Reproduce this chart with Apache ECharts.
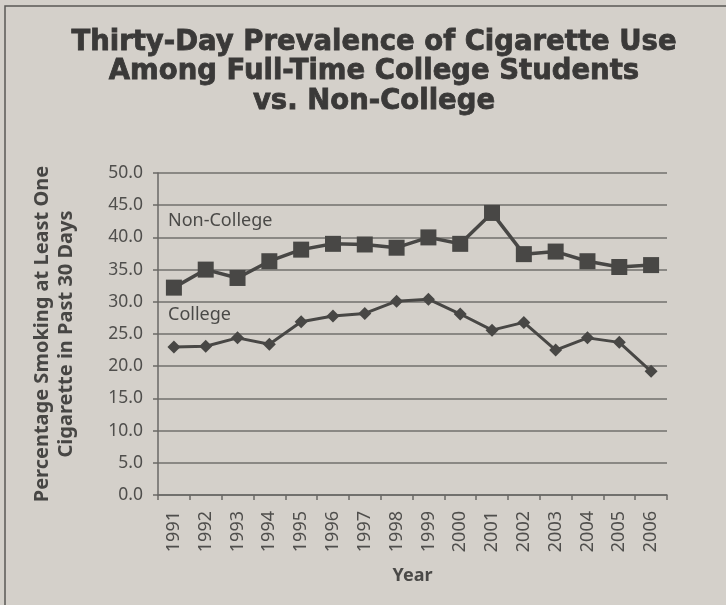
<!DOCTYPE html>
<html>
<head>
<meta charset="utf-8">
<script src="https://cdn.jsdelivr.net/npm/echarts@6/dist/echarts.min.js"></script>
<style>
html,body{margin:0;padding:0;background:#d4d0ca;}
#c{width:726px;height:605px;}
</style>
</head>
<body>
<div id="c"></div>
<script>
const years = ['1991','1992','1993','1994','1995','1996','1997','1998','1999','2000','2001','2002','2003','2004','2005','2006'];
const nonCollege = [32.2, 35.0, 33.7, 36.3, 38.1, 39.0, 38.9, 38.4, 40.0, 39.0, 43.8, 37.4, 37.8, 36.3, 35.4, 35.7];
const college = [23.0, 23.1, 24.4, 23.4, 26.9, 27.8, 28.2, 30.1, 30.4, 28.1, 25.6, 26.8, 22.5, 24.4, 23.7, 19.2];
const yTicks = { min: 0, max: 50, interval: 5 };
const titleText = 'Thirty-Day Prevalence of Cigarette Use\nAmong Full-Time College Students\nvs. Non-College';
const yName = 'Percentage Smoking at Least One\nCigarette in Past 30 Days';
const xName = 'Year';

const chart = echarts.init(document.getElementById('c'), null, {renderer:'canvas'});
const ink = '#484745';
const option = {
  backgroundColor: '#d4d0ca',
  animation: false,
  title: {
    text: titleText,
    left: 369, top: 23, textAlign: 'center',
    textStyle: { fontFamily: 'DejaVu Sans', fontWeight: 'bold', fontSize: 27.5, lineHeight: 29.5, color: '#3a3938',
                 textBorderColor: '#3a3938', textBorderWidth: 0.8 }
  },
  grid: { left: 158, right: 59, top: 173, bottom: 110, containLabel: false },
  xAxis: {
    type: 'category', data: years, boundaryGap: true,
    name: xName, nameLocation: 'middle', nameGap: 72,
    nameTextStyle: { fontFamily: 'Noto Sans', fontWeight: 'bold', fontSize: 18, color: '#4a4947' },
    axisLine: { lineStyle: { color: '#6a6866', width: 1.5 } },
    axisTick: { show: true, length: 5, lineStyle: { color: '#6a6866', width: 1.5 } },
    axisLabel: { rotate: 90, margin: 16, fontFamily: 'Noto Sans', fontSize: 18, color: '#4f4e4c' }
  },
  yAxis: {
    type: 'value', min: yTicks.min, max: yTicks.max, interval: yTicks.interval,
    name: yName, nameLocation: 'middle', nameGap: 80, nameRotate: 90,
    nameTextStyle: { fontFamily: 'Noto Sans', fontWeight: 'bold', fontSize: 20, lineHeight: 24, color: '#474644' },
    axisLine: { show: true, lineStyle: { color: '#6a6866', width: 1.5 } },
    axisTick: { show: true, length: 5, lineStyle: { color: '#6a6866', width: 1.5 } },
    axisLabel: { margin: 15, fontFamily: 'Noto Sans', fontSize: 17.5, color: '#4f4e4c', formatter: v => v.toFixed(1) },
    splitLine: { lineStyle: { color: '#72706d', width: 1.5 } }
  },
  series: [
    {
      name: 'Non-College', type: 'line', data: nonCollege,
      symbol: 'rect', symbolSize: 16,
      lineStyle: { color: ink, width: 3.5 }, itemStyle: { color: ink }
    },
    {
      name: 'College', type: 'line', data: college,
      symbol: 'diamond', symbolSize: 13,
      lineStyle: { color: ink, width: 3 }, itemStyle: { color: ink }
    }
  ],
  graphic: [
    { type: 'polyline', shape: { points: [[5,605],[5,6],[726,6]] }, style: { stroke: '#5a5856', lineWidth: 1.5, fill: null } },
    { type: 'text', left: 168, top: 212, style: { text: 'Non-College', font: '18px "Noto Sans"', fill: '#4a4947' } },
    { type: 'text', left: 168, top: 306, style: { text: 'College', font: '18px "Noto Sans"', fill: '#4a4947' } }
  ]
};
chart.setOption(option);
</script>
</body>
</html>
